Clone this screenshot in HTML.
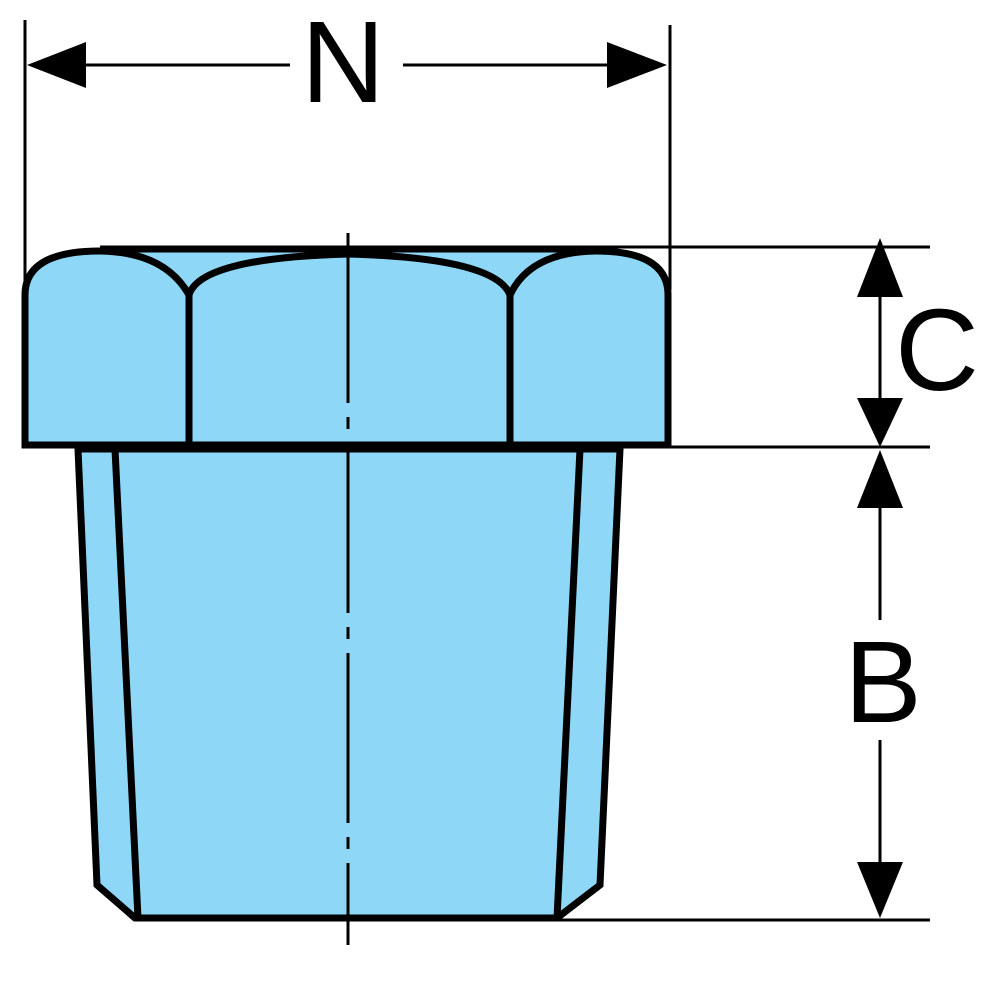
<!DOCTYPE html>
<html><head><style>html,body{margin:0;padding:0;background:#fff;width:1000px;height:1000px;overflow:hidden}</style></head>
<body>
<svg width="1000" height="1000" viewBox="0 0 1000 1000" xmlns="http://www.w3.org/2000/svg">
<!-- body -->
<path d="M78,449 L620,449 L600,885 L557,918 L135,918 L97,885 Z" fill="#8ed7f7" stroke="#000" stroke-width="7" stroke-linejoin="miter"/>
<line x1="115" y1="449" x2="138" y2="918" stroke="#000" stroke-width="7"/>
<line x1="580" y1="449" x2="557" y2="918" stroke="#000" stroke-width="7"/>
<!-- head -->
<path d="M25,445 L25,295 Q25,251 100,250 L596,250 Q668,251 668,295 L668,445 Z" fill="#8ed7f7" stroke="none"/>
<line x1="100" y1="249" x2="596" y2="249" stroke="#000" stroke-width="7"/>
<path d="M25,445 L25,295 Q25,251 100,251 Q165,252 189,295 Q200,258 348,254 Q496,258 510,295 Q530,252 596,251 Q668,251 668,295 L668,445 Z" fill="#8ed7f7" stroke="#000" stroke-width="7"/>
<line x1="189" y1="292" x2="189" y2="445" stroke="#000" stroke-width="7"/>
<line x1="510" y1="292" x2="510" y2="445" stroke="#000" stroke-width="7"/>
<!-- centerline -->
<line x1="348" y1="233" x2="348" y2="945" stroke="#000" stroke-width="3" stroke-dasharray="170,14,12,14"/>
<g stroke="#000" stroke-width="3">
<line x1="25" y1="20" x2="25" y2="290"/>
<line x1="670" y1="25" x2="670" y2="290"/>
<line x1="80" y1="65" x2="290" y2="65"/>
<line x1="403" y1="65" x2="612" y2="65"/>
<line x1="590" y1="247" x2="930" y2="247"/>
<line x1="670" y1="447" x2="930" y2="447"/>
<line x1="557" y1="920" x2="930" y2="920"/>
<line x1="880" y1="290" x2="880" y2="405"/>
<line x1="880" y1="505" x2="880" y2="620"/>
<line x1="880" y1="740" x2="880" y2="865"/>
</g>
<g fill="#000">
<polygon points="27,65 86,42 86,88"/>
<polygon points="667,65 607,42 607,88"/>
<polygon points="880,238 857,297 903,297"/>
<polygon points="880,447 857,398 903,398"/>
<polygon points="880,450 857,508 903,508"/>
<polygon points="880,918 857,862 903,862"/>
</g>
<g font-family="Liberation Sans, sans-serif" fill="#000" text-anchor="middle">
<text x="343" y="102" font-size="116">N</text>
<text x="937" y="390" font-size="116">C</text>
<text x="883" y="722" font-size="116">B</text>
</g>
</svg>
</body></html>
